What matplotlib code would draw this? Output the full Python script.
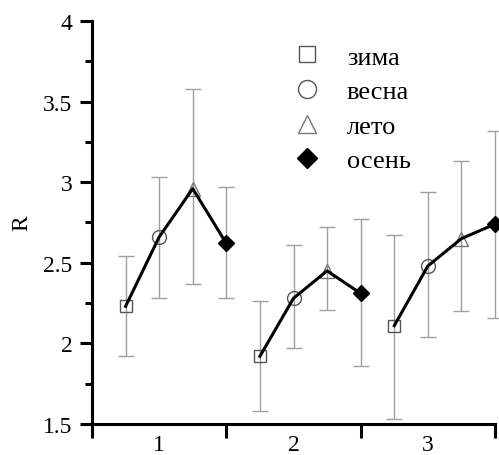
import matplotlib
matplotlib.use('Agg')
import matplotlib.pyplot as plt
from matplotlib.lines import Line2D
from matplotlib.ticker import MultipleLocator, FixedLocator, NullFormatter
import numpy as np

plt.rcParams['font.family'] = ['Liberation Serif', 'DejaVu Serif']

groups = ['1', '2', '3']
seasons = ['зима', 'весна', 'лето', 'осень']

# mean R and error bar ends per group
winter = [2.23, 1.92, 2.11]
winter_hi = [2.54, 2.26, 2.67]
winter_lo = [1.92, 1.58, 1.53]
spring = [2.66, 2.28, 2.48]
spring_hi = [3.03, 2.61, 2.94]
spring_lo = [2.28, 1.97, 2.04]
summer = [2.96, 2.45, 2.65]
summer_hi = [3.58, 2.72, 3.13]
summer_lo = [2.37, 2.21, 2.20]
autumn = [2.62, 2.31, 2.74]
autumn_hi = [2.97, 2.77, 3.32]
autumn_lo = [2.28, 1.86, 2.16]

vals = [winter, spring, summer, autumn]
his = [winter_hi, spring_hi, summer_hi, autumn_hi]
los = [winter_lo, spring_lo, summer_lo, autumn_lo]

markers = [dict(marker='s', ms=9, mfc='none', mec='#555555', mew=1.0),
           dict(marker='o', ms=10, mfc='none', mec='#555555', mew=1.0),
           dict(marker='^', ms=10, mfc='none', mec='#777777', mew=1.0),
           dict(marker='D', ms=8, mfc='black', mec='black', mew=1.0)]

fig = plt.figure(figsize=(4.99, 4.56), dpi=100)
ax = fig.add_axes([92/499, 1-425/456, 403/499, 403/456])

for k in range(4):
    x = np.arange(3) + 0.25*(k+1)
    v = np.array(vals[k])
    yerr = [v - np.array(los[k]), np.array(his[k]) - v]
    ax.errorbar(x, v, yerr=yerr, fmt='none', ecolor='#a0a0a0', elinewidth=1.0,
                capsize=6, capthick=1.0, zorder=1, clip_on=False)
    ax.plot(x, v, linestyle='none', zorder=2, clip_on=False, **markers[k])

for g in range(3):
    x = g + 0.25*np.arange(1, 5)
    y = [vals[k][g] for k in range(4)]
    ax.plot(x, y, color='black', lw=2.2, zorder=3, clip_on=False)

ax.set_xlim(0, 3)
ax.set_ylim(1.5, 4)
ax.spines['top'].set_visible(False)
ax.spines['right'].set_visible(False)
ax.spines['left'].set_linewidth(2.2)
ax.spines['bottom'].set_linewidth(2.2)

ax.yaxis.set_minor_locator(MultipleLocator(0.25))
ax.set_yticks([1.5, 2, 2.5, 3, 3.5, 4])
ax.set_yticklabels(['1.5', '2', '2.5', '3', '3.5', '4'])
ax.tick_params(axis='y', which='major', direction='out', length=9, width=2.2, labelsize=17, pad=5)
ax.tick_params(axis='y', which='minor', direction='out', length=5, width=2.2)

ax.xaxis.set_major_locator(FixedLocator([0, 1, 2, 3]))
ax.xaxis.set_major_formatter(NullFormatter())
ax.xaxis.set_minor_locator(FixedLocator([0.5, 1.5, 2.5]))
ax.set_xticklabels(groups, minor=True)
ax.tick_params(axis='x', which='major', direction='out', length=10, width=2.2)
ax.tick_params(axis='x', which='minor', length=0, labelsize=17, pad=7)

ax.set_ylabel('R', fontsize=17, labelpad=8)

handles = [Line2D([], [], linestyle='none', **dict(markers[k], ms=markers[k]['ms']*1.3))
           for k in range(4)]
ax.legend(handles, seasons, loc='upper left', bbox_to_anchor=(0.484, 0.94), frameon=False,
          fontsize=19, handletextpad=0.77, labelspacing=0.42, handlelength=1.5,
          borderpad=0, borderaxespad=0)

fig.savefig('out.png', dpi=100)
